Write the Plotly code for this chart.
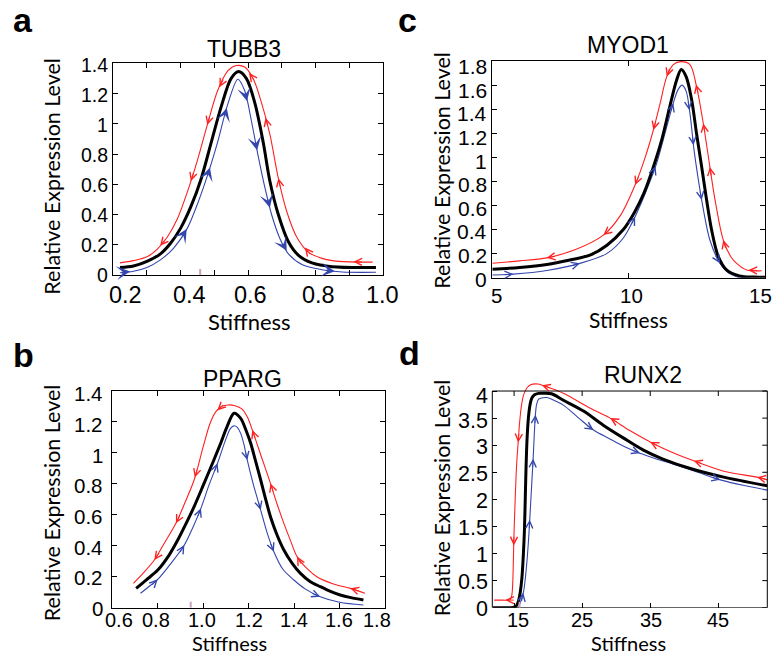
import numpy as np
import plotly.graph_objects as go

# ---------------- data ----------------
# Panel a : TUBB3
a_x_black = [0.22, 0.26, 0.30, 0.34, 0.37, 0.40, 0.43, 0.46, 0.49, 0.52, 0.55, 0.572, 0.595, 0.62, 0.645, 0.665, 0.69, 0.72, 0.75, 0.79, 0.85, 0.98]
a_y_black = [0.05, 0.06, 0.09, 0.14, 0.21, 0.31, 0.45, 0.63, 0.87, 1.11, 1.30, 1.345, 1.30, 1.14, 0.88, 0.62, 0.40, 0.22, 0.13, 0.08, 0.055, 0.05]
a_x_red = [0.22, 0.26, 0.30, 0.33, 0.36, 0.39, 0.42, 0.45, 0.48, 0.51, 0.54, 0.565, 0.59, 0.615, 0.64, 0.665, 0.69, 0.715, 0.745, 0.78, 0.82, 0.87, 0.97]
a_y_red = [0.08, 0.095, 0.12, 0.17, 0.25, 0.37, 0.55, 0.76, 1.00, 1.22, 1.35, 1.385, 1.375, 1.30, 1.14, 0.93, 0.64, 0.42, 0.25, 0.15, 0.11, 0.09, 0.085]
a_x_blue = [0.22, 0.26, 0.30, 0.34, 0.38, 0.42, 0.45, 0.48, 0.51, 0.54, 0.57, 0.59, 0.61, 0.63, 0.65, 0.67, 0.695, 0.72, 0.76, 0.82, 0.88, 0.98]
a_y_blue = [0.015, 0.025, 0.05, 0.10, 0.18, 0.31, 0.47, 0.66, 0.88, 1.13, 1.295, 1.22, 1.02, 0.79, 0.58, 0.40, 0.24, 0.14, 0.07, 0.035, 0.02, 0.018]
a_arrows_red = [0.339, 0.43, 0.479, 0.515, 0.603, 0.652, 0.69, 0.769, 0.913]
a_arrows_blue = [0.25, 0.418, 0.487, 0.537, 0.597, 0.627, 0.665, 0.715, 0.858]
a_xticks = [0.2, 0.3, 0.4, 0.5, 0.6, 0.7, 0.8, 0.9, 1.0]
a_xticklabels = ['0.2', '', '0.4', '', '0.6', '', '0.8', '', '1.0']
a_yticks = [0, 0.2, 0.4, 0.6, 0.8, 1.0, 1.2, 1.4]
a_yticklabels = ['0', '0.2', '0.4', '0.6', '0.8', '1', '1.2', '1.4']
a_mark = [0.458]

# Panel b : PPARG
b_x_black = [0.705, 0.75, 0.80, 0.85, 0.888, 0.925, 0.96, 1.0, 1.04, 1.077, 1.105, 1.136, 1.165, 1.19, 1.209, 1.23, 1.253, 1.275, 1.296, 1.325, 1.355, 1.39, 1.428, 1.47, 1.515, 1.56, 1.603, 1.65, 1.705]
b_y_black = [0.125, 0.18, 0.243, 0.34, 0.437, 0.545, 0.653, 0.79, 0.93, 1.062, 1.17, 1.256, 1.223, 1.14, 1.062, 0.95, 0.825, 0.70, 0.588, 0.47, 0.373, 0.29, 0.222, 0.17, 0.136, 0.105, 0.082, 0.065, 0.05]
b_x_red = [0.693, 0.74, 0.785, 0.83, 0.88, 0.92, 0.96, 1.0, 1.03, 1.055, 1.08, 1.11, 1.14, 1.17, 1.195, 1.216, 1.256, 1.296, 1.325, 1.355, 1.385, 1.413, 1.455, 1.5, 1.57, 1.647, 1.712]
b_y_red = [0.157, 0.23, 0.308, 0.42, 0.545, 0.68, 0.825, 1.04, 1.19, 1.265, 1.30, 1.31, 1.305, 1.285, 1.23, 1.148, 0.975, 0.803, 0.67, 0.545, 0.43, 0.33, 0.255, 0.2, 0.155, 0.125, 0.093]
b_x_blue = [0.724, 0.76, 0.80, 0.86, 0.917, 0.955, 0.99, 1.025, 1.063, 1.095, 1.121, 1.136, 1.15, 1.165, 1.18, 1.194, 1.22, 1.253, 1.28, 1.311, 1.35, 1.399, 1.45, 1.515, 1.6, 1.705]
b_y_blue = [0.093, 0.135, 0.183, 0.29, 0.405, 0.52, 0.642, 0.79, 0.933, 1.07, 1.16, 1.175, 1.165, 1.126, 1.05, 0.954, 0.80, 0.631, 0.49, 0.362, 0.25, 0.179, 0.12, 0.071, 0.035, 0.017]
b_arrows_red = [0.785, 0.88, 0.963, 1.062, 1.216, 1.296, 1.413, 1.647]
b_arrows_blue = [0.80, 0.917, 0.99, 1.063, 1.194, 1.253, 1.311, 1.515]
b_xticks = [0.6, 0.8, 1.0, 1.2, 1.4, 1.6, 1.8]
b_xticklabels = ['0.6', '0.8', '1.0', '1.2', '1.4', '1.6', '1.8']
b_yticks = [0, 0.2, 0.4, 0.6, 0.8, 1.0, 1.2, 1.4]
b_yticklabels = ['0', '0.2', '0.4', '0.6', '0.8', '1', '1.2', '1.4']
b_mark = [0.945]

# Panel c : MYOD1
c_x_black = [5.0, 6.0, 7.0, 7.8, 8.6, 9.2, 9.8, 10.2, 10.55, 10.9, 11.2, 11.5, 11.75, 11.92, 12.1, 12.3, 12.48, 12.67, 12.85, 13.03, 13.28, 13.58, 14.05, 14.6, 15.0]
c_y_black = [0.07, 0.085, 0.11, 0.145, 0.19, 0.27, 0.40, 0.54, 0.70, 0.92, 1.14, 1.42, 1.64, 1.73, 1.67, 1.48, 1.20, 0.92, 0.645, 0.40, 0.175, 0.065, 0.015, 0.005, 0.003]
c_x_red = [5.0, 6.0, 7.0, 8.0, 9.07, 9.7, 10.23, 10.6, 10.9, 11.15, 11.39, 11.63, 11.91, 12.24, 12.48, 12.73, 12.97, 13.16, 13.46, 13.75, 13.95, 14.32, 14.87]
c_y_red = [0.12, 0.14, 0.165, 0.23, 0.354, 0.52, 0.77, 1.0, 1.227, 1.45, 1.67, 1.77, 1.795, 1.77, 1.59, 1.28, 0.92, 0.645, 0.313, 0.17, 0.119, 0.064, 0.058]
c_x_blue = [5.0, 5.77, 7.0, 8.21, 9.19, 9.8, 10.23, 10.6, 11.02, 11.35, 11.63, 11.8, 11.95, 12.1, 12.24, 12.39, 12.53, 12.67, 12.97, 13.34, 13.65, 13.95, 14.4, 14.93]
c_y_blue = [0.022, 0.03, 0.06, 0.119, 0.20, 0.33, 0.507, 0.70, 0.95, 1.22, 1.45, 1.56, 1.60, 1.55, 1.365, 1.06, 0.84, 0.645, 0.313, 0.119, 0.04, 0.008, -0.005, -0.012]
c_arrows_red = [6.99, 9.07, 10.23, 10.9, 11.39, 12.46, 12.73, 12.97, 13.46, 14.38]
c_arrows_blue = [5.77, 8.21, 10.23, 10.98, 11.63, 12.22, 12.37, 12.67, 13.34]
c_xticks = [5, 10, 15]
c_xticklabels = ['5', '10', '15']
c_yticks = [0, 0.2, 0.4, 0.6, 0.8, 1.0, 1.2, 1.4, 1.6, 1.8]
c_yticklabels = ['0', '0.2', '0.4', '0.6', '0.8', '1', '1.2', '1.4', '1.6', '1.8']
c_mark = []

# Panel d : RUNX2
d_x_black = [11.9, 13.0, 14.0, 14.8, 15.3, 15.64, 15.9, 16.15, 16.35, 16.52, 16.65, 16.76, 16.9, 17.1, 17.35, 17.6, 18.0, 18.6, 19.5, 20.5, 22.25, 25.2, 28.1, 31.1, 34.0, 36.96, 40.9, 45.8, 52.2]
d_y_black = [0.0, 0.0, 0.0, 0.005, 0.03, 0.12, 0.28, 0.55, 0.95, 1.43, 2.05, 2.6, 3.1, 3.5, 3.75, 3.87, 3.93, 3.957, 3.96, 3.95, 3.83, 3.63, 3.37, 3.13, 2.91, 2.74, 2.57, 2.41, 2.25]
d_x_red = [12.06, 13.0, 14.0, 14.4, 14.65, 14.8, 14.9, 15.0, 15.15, 15.3, 15.45, 15.6, 15.8, 16.05, 16.4, 16.9, 17.5, 18.5, 20.0, 22.25, 26.2, 29.1, 32.0, 35.0, 38.0, 41.0, 45.8, 50.7, 52.2]
d_y_red = [0.14, 0.14, 0.14, 0.15, 0.22, 0.45, 0.9, 1.4, 1.95, 2.45, 2.8, 3.05, 3.4, 3.7, 3.93, 4.06, 4.12, 4.13, 4.07, 3.96, 3.68, 3.50, 3.27, 3.06, 2.88, 2.73, 2.52, 2.41, 2.36]
d_x_blue = [15.64, 16.0, 16.4, 16.7, 16.95, 17.2, 17.4, 17.6, 17.8, 17.95, 18.1, 18.3, 18.6, 19.0, 19.8, 21.0, 22.25, 24.5, 26.67, 29.0, 31.1, 33.5, 36.0, 38.4, 42.0, 45.3, 49.0, 52.2]
d_y_blue = [0.0, 0.12, 0.3, 0.6, 0.95, 1.4, 1.85, 2.3, 2.75, 3.15, 3.5, 3.75, 3.85, 3.87, 3.88, 3.82, 3.74, 3.5, 3.28, 3.12, 2.98, 2.85, 2.74, 2.65, 2.5, 2.36, 2.25, 2.17]
d_arrows_red = [13.7, 14.95, 15.6, 19.07, 29.1, 35.0, 41.4, 50.7]
d_arrows_blue = [16.35, 17.3, 17.8, 18.15, 26.67, 33.5, 45.3]
d_xticks = [15, 25, 35, 45]
d_xticklabels = ['15', '25', '35', '45']
d_yticks = [0, 0.5, 1.0, 1.5, 2.0, 2.5, 3.0, 3.5, 4.0]
d_yticklabels = ['0', '0.5', '1', '1.5', '2', '2.5', '3', '3.5', '4']
d_mark = [15.8]

titles = ['TUBB3', 'PPARG', 'MYOD1', 'RUNX2']
letters = ['a', 'b', 'c', 'd']
x_title = 'Stiffness'
y_title = 'Relative Expression Level'

# ---------------- layout / style ----------------
W, H = 773, 655
RED = '#ff2020'
BLUE = '#3346ad'
BLACK = '#000000'
MARK = 'rgb(200,162,192)'
TICK_FAMILY = 'Liberation Sans, Arial, Helvetica, sans-serif'
LABEL_FAMILY = 'Lato, Open Sans, sans-serif'
TICKLEN = 5
ASC_ARIAL = 0.3465   # baseline offset below box centre (em) for Liberation Sans
ASC_LATO = 0.387     # same for Lato

panels = [
    dict(xid='x', yid='y', xpx=(113.3, 382.7), ypx=(63.3, 275.0), xr=[0.2, 1.0], yr=[0, 1.4], frame_top=None,
         data=(a_x_black, a_y_black, a_x_red, a_y_red, a_x_blue, a_y_blue), arrows=(a_arrows_red, a_arrows_blue),
         ticks=(a_xticks, a_xticklabels, a_yticks, a_yticklabels), mark=a_mark,
         xfont=23.5, xbase=303, xshift=[11.7, 0, 9.3, 0, 2, 0, 2.7, 0, 0],
         yfont=19.5, yright=108, ydown=[0.5, 0.5, 0.7, 0.8, 1, 1.2, 1.4, 1.7],
         blue_head=3, blue_size=1.9, blue_width=1.2,
         title_pos=(244, 56.7), letter_pos=(22.5, 32), xt=(250, 330, 22), yt=(51.7, 176),
         title=titles[0], letter=letters[0]),
    dict(xid='x3', yid='y3', xpx=(112.3, 385.0), ypx=(391.0, 607.7), xr=[0.6, 1.8], yr=[0, 1.4], frame_top=None,
         data=(b_x_black, b_y_black, b_x_red, b_y_red, b_x_blue, b_y_blue), arrows=(b_arrows_red, b_arrows_blue),
         ticks=(b_xticks, b_xticklabels, b_yticks, b_yticklabels), mark=b_mark,
         xfont=20, xbase=626.7, xshift=[7, -1.6, -1, 0, -0.5, -1, -8],
         yfont=20.5, yright=103, ydown=[0.6, 1, 1.3, 1.7, 2, 2.3, 2.6, 3],
         blue_head=5, blue_size=1.4, blue_width=1,
         title_pos=(242.5, 386.7), letter_pos=(23.5, 367), xt=(229, 650.7, 20), yt=(51.7, 502.5),
         title=titles[1], letter=letters[1]),
    dict(xid='x2', yid='y2', xpx=(492.3, 765.3), ypx=(61.0, 277.7), xr=[5, 15], yr=[0, 1.8], frame_top=None,
         data=(c_x_black, c_y_black, c_x_red, c_y_red, c_x_blue, c_y_blue), arrows=(c_arrows_red, c_arrows_blue),
         ticks=(c_xticks, c_xticklabels, c_yticks, c_yticklabels), mark=c_mark,
         xfont=20.5, xbase=302.5, xshift=[4.4, 3, -4.6],
         yfont=21, yright=486.7, ydown=[1.3, 1.8, 2.3, 2.8, 3.3, 3.8, 4.3, 4.8, 5.3, 5.8],
         blue_head=5, blue_size=1.4, blue_width=1,
         title_pos=(627.5, 53.3), letter_pos=(407.5, 32), xt=(628, 328, 21), yt=(441.7, 170),
         title=titles[2], letter=letters[2]),
    dict(xid='x4', yid='y4', xpx=(492.3, 767.3), ypx=(382.9, 607.7), xr=[11.8, 52.2], yr=[0, 4.15], frame_top=4.0,
         data=(d_x_black, d_y_black, d_x_red, d_y_red, d_x_blue, d_y_blue), arrows=(d_arrows_red, d_arrows_blue),
         ticks=(d_xticks, d_xticklabels, d_yticks, d_yticklabels), mark=d_mark,
         xfont=20, xbase=626.7, xshift=[4, 0, 1, 0],
         yfont=21.5, yright=488, ydown=[1.3, 1.5, 1.5, 1.5, 1.5, 2, 2, 2.5, 5],
         blue_head=5, blue_size=1.4, blue_width=1,
         title_pos=(642.5, 383.3), letter_pos=(409, 365), xt=(628, 650.7, 20), yt=(441.7, 497.5),
         title=titles[3], letter=letters[3]),
]

fig = go.Figure()
annotations = []
shapes = []
layout_axes = {}


def text_ann(text, xpx, ypx_base, family, size, asc, **kw):
    """Place text so its baseline sits at ypx_base (pixels from top)."""
    yc = ypx_base - asc * size
    d = dict(text=text, x=xpx / W, y=1 - yc / H, xref='paper', yref='paper',
             xanchor='center', yanchor='middle', showarrow=False, borderpad=0, borderwidth=0,
             font=dict(family=family, size=size, color='black'))
    d.update(kw)
    return d


def add_arrows(xs, ys, heads, direction, color, xid, yid, sx, sy, span, head, size, width=1):
    xs = np.asarray(xs, float)
    ys = np.asarray(ys, float)
    h = 0.004 * span
    for xh in heads:
        yh = float(np.interp(xh, xs, ys))
        dy = float(np.interp(xh + h, xs, ys) - np.interp(xh - h, xs, ys))
        dx = 2 * h
        px, py = dx * sx, dy * sy
        n = np.hypot(px, py)
        ux, uy = direction * px / n, direction * py / n
        L = 10
        annotations.append(dict(x=xh, y=yh, xref=xid, yref=yid, ax=-L * ux, ay=L * uy,
                                axref='pixel', ayref='pixel', text='', showarrow=True,
                                arrowhead=head, arrowsize=size, arrowwidth=width,
                                arrowcolor=color, standoff=0))


for p in panels:
    xid, yid = p['xid'], p['yid']
    xname = 'xaxis' + xid[1:]
    yname = 'yaxis' + yid[1:]
    x0p, x1p = p['xpx']
    ytp, ybp = p['ypx']
    xdom = [x0p / W, x1p / W]
    ydom = [1 - ybp / H, 1 - ytp / H]
    sx = (x1p - x0p) / (p['xr'][1] - p['xr'][0])
    sy = (ybp - ytp) / (p['yr'][1] - p['yr'][0])
    xb, yb, xrd, yrd, xbl, ybl = p['data']
    xt, xtl, yt, ytl = p['ticks']

    for xs, ys, col, w in ((xrd, yrd, RED, 1.1), (xbl, ybl, BLUE, 1.1), (xb, yb, BLACK, 3)):
        fig.add_trace(go.Scatter(x=xs, y=ys, xaxis=xid, yaxis=yid, mode='lines',
                                 line=dict(color=col, width=w, shape='spline', smoothing=0.9),
                                 hoverinfo='skip', showlegend=False))

    span = p['xr'][1] - p['xr'][0]
    add_arrows(xrd, yrd, p['arrows'][0], -1, RED, xid, yid, sx, sy, span, 5, 1.4)
    add_arrows(xbl, ybl, p['arrows'][1], +1, BLUE, xid, yid, sx, sy, span,
               p['blue_head'], p['blue_size'], p['blue_width'])

    framed = p['frame_top'] is None
    common = dict(showgrid=False, zeroline=False, ticks='inside', ticklen=TICKLEN, tickwidth=1,
                  tickcolor='black', linecolor='black', linewidth=1, fixedrange=True,
                  showticklabels=False)
    layout_axes[xname] = dict(common, domain=xdom, range=p['xr'], anchor=yid,
                              tickmode='array', tickvals=xt,
                              showline=framed, mirror='allticks' if framed else False)
    layout_axes[yname] = dict(common, domain=ydom, range=p['yr'], anchor=xid,
                              tickmode='array', tickvals=yt,
                              showline=framed, mirror='allticks' if framed else False)

    if not framed:
        ft = p['frame_top']
        shapes.append(dict(type='rect', xref=xid + ' domain', yref=yid, x0=0, x1=1, y0=0, y1=ft,
                           line=dict(color='black', width=1), layer='above'))
        for t in xt:
            shapes.append(dict(type='line', xref=xid, yref=yid, x0=t, x1=t, y0=ft, y1=ft - TICKLEN / sy,
                               line=dict(color='black', width=1), layer='above'))
        for t in yt:
            shapes.append(dict(type='line', xref=xid + ' domain', yref=yid, x0=1, x1=1 - TICKLEN / (x1p - x0p),
                               y0=t, y1=t, line=dict(color='black', width=1), layer='above'))

    for m in p['mark']:
        shapes.append(dict(type='line', xref=xid, yref=yid, x0=m, x1=m, y0=0, y1=6 / sy,
                           line=dict(color=MARK, width=2), layer='above'))

    # x tick labels
    xc = p['xbase'] - ASC_ARIAL * p['xfont']
    for t, lab, sh in zip(xt, xtl, p['xshift']):
        if not lab:
            continue
        annotations.append(dict(text=lab, x=t, xref=xid, y=1 - xc / H, yref='paper',
                                xanchor='center', yanchor='middle', xshift=sh, showarrow=False,
                                borderpad=0, borderwidth=0,
                                font=dict(family=TICK_FAMILY, size=p['xfont'], color='black')))
    # y tick labels
    for t, lab, dn in zip(yt, ytl, p['ydown']):
        annotations.append(dict(text=lab, x=p['yright'] / W, xref='paper', y=t, yref=yid,
                                xanchor='right', yanchor='middle', yshift=-dn, showarrow=False,
                                borderpad=0, borderwidth=0,
                                font=dict(family=TICK_FAMILY, size=p['yfont'], color='black')))

    tx, tyb = p['title_pos']
    annotations.append(text_ann(p['title'], tx, tyb, TICK_FAMILY, 23, ASC_ARIAL))
    lx, lyb = p['letter_pos']
    annotations.append(text_ann('<b>' + p['letter'] + '</b>', lx, lyb, TICK_FAMILY, 34, ASC_ARIAL))
    sxp, syb, ssz = p['xt']
    annotations.append(text_ann(x_title, sxp, syb, LABEL_FAMILY, ssz, ASC_LATO))
    yx, yy = p['yt']
    annotations.append(dict(text=y_title, x=yx / W, y=1 - yy / H, xref='paper', yref='paper',
                            xanchor='center', yanchor='middle', showarrow=False, textangle=-90,
                            borderpad=0, borderwidth=0,
                            font=dict(family=LABEL_FAMILY, size=21.5, color='black')))

fig.update_layout(width=W, height=H, autosize=False, margin=dict(l=0, r=0, t=0, b=0),
                  paper_bgcolor='white', plot_bgcolor='white', showlegend=False,
                  annotations=annotations, shapes=shapes, **layout_axes)

fig.write_html('out.html', config={'displayModeBar': False},
               post_script="document.body.style.margin='0px';document.body.style.overflow='hidden';")
